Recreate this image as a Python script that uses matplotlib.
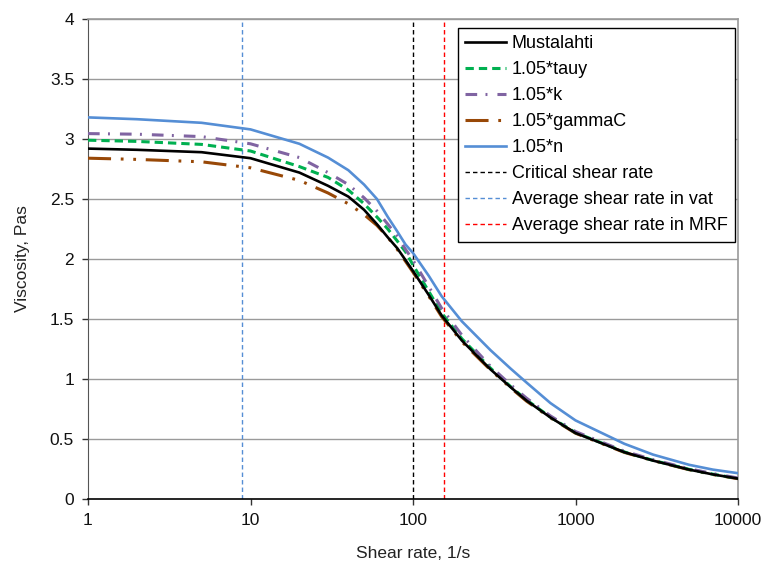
import matplotlib
matplotlib.use("Agg")
import matplotlib.pyplot as plt
from matplotlib.ticker import FixedLocator, FixedFormatter, NullLocator

plt.rcParams['font.family'] = ['Liberation Sans', 'DejaVu Sans']
plt.rcParams['lines.scale_dashes'] = False

# Shear rate (1/s)
shear_rate = [1, 2, 5, 10, 20, 30, 40, 50, 60, 70, 80, 90, 100, 125, 150,
              200, 300, 400, 500, 700, 1000, 2000, 3000, 5000, 7000, 10000]

# Viscosity (Pas) for each parameter variant
mustalahti = [2.92, 2.91, 2.89, 2.84, 2.72, 2.61, 2.52, 2.41, 2.29, 2.18, 2.09, 1.99, 1.90, 1.70, 1.53,
              1.32, 1.08, 0.93, 0.82, 0.68, 0.55, 0.39, 0.32, 0.245, 0.205, 0.17]
tauy_105 = [2.99, 2.98, 2.955, 2.90, 2.77, 2.68, 2.575, 2.46, 2.35, 2.25, 2.15, 2.06, 1.95, 1.73, 1.55,
            1.335, 1.09, 0.935, 0.825, 0.683, 0.553, 0.392, 0.322, 0.247, 0.207, 0.171]
k_105 = [3.045, 3.04, 3.02, 2.96, 2.845, 2.72, 2.62, 2.51, 2.40, 2.29, 2.19, 2.08, 1.99, 1.77, 1.59,
         1.365, 1.105, 0.95, 0.84, 0.693, 0.562, 0.398, 0.328, 0.252, 0.212, 0.175]
gammac_105 = [2.84, 2.83, 2.81, 2.76, 2.655, 2.55, 2.46, 2.37, 2.28, 2.18, 2.08, 1.98, 1.89, 1.69, 1.52,
              1.31, 1.075, 0.925, 0.815, 0.677, 0.548, 0.388, 0.32, 0.244, 0.204, 0.169]
n_105 = [3.18, 3.165, 3.135, 3.08, 2.96, 2.845, 2.74, 2.62, 2.50, 2.35, 2.23, 2.12, 2.05, 1.86, 1.69,
         1.48, 1.24, 1.085, 0.97, 0.80, 0.655, 0.46, 0.37, 0.285, 0.245, 0.215]

# Reference shear rates (1/s)
critical_rate = 100
vat_rate = 8.9
mrf_rate = 156

y_ticks = [0, 0.5, 1, 1.5, 2, 2.5, 3, 3.5, 4]
y_tick_labels = ['0', '0.5', '1', '1.5', '2', '2.5', '3', '3.5', '4']
x_ticks = [1, 10, 100, 1000, 10000]
x_tick_labels = ['1', '10', '100', '1000', '10000']

fig = plt.figure(figsize=(7.66, 5.65), dpi=100)
ax = fig.add_axes([88 / 766, 1 - 499 / 565, (738 - 88) / 766, (499 - 19) / 565])

ax.set_xscale('log')
ax.set_xlim(1, 10000)
ax.set_ylim(0, 4)

grid_color = '#9a9a9a'
for y in y_ticks[1:]:
    ax.axhline(y, color=grid_color, lw=1.0, zorder=1)

ax.plot(shear_rate, mustalahti, color='black', lw=1.9, label='Mustalahti', zorder=5)
ax.plot(shear_rate, tauy_105, color='#00B050', lw=2.2, ls=(0, (6, 3.6)), label='1.05*tauy', zorder=4)
ax.plot(shear_rate, k_105, color='#8064A2', lw=2.2, ls=(0, (8.4, 6, 1.4, 7.2)), label='1.05*k', zorder=4)
ax.plot(shear_rate, gammac_105, color='#984807', lw=2.2,
        ls=(0, (16.6, 7, 2, 7, 2, 7)), label='1.05*gammaC', zorder=3)
ax.plot(shear_rate, n_105, color='#558ED5', lw=1.9, label='1.05*n', zorder=4)

ax.axvline(critical_rate, color='black', lw=1.0, ls=(0, (3.2, 2.2)), label='Critical shear rate', zorder=2)
ax.axvline(vat_rate, color='#558ED5', lw=1.0, ls=(0, (3.2, 2.2)), label='Average shear rate in vat', zorder=2)
ax.axvline(mrf_rate, color='#FF0000', lw=1.0, ls=(0, (3.2, 2.2)), label='Average shear rate in MRF', zorder=2)

ax.xaxis.set_major_locator(FixedLocator(x_ticks))
ax.xaxis.set_major_formatter(FixedFormatter(x_tick_labels))
ax.xaxis.set_minor_locator(NullLocator())
ax.yaxis.set_major_locator(FixedLocator(y_ticks))
ax.yaxis.set_major_formatter(FixedFormatter(y_tick_labels))

ax.tick_params(axis='both', which='major', direction='out', length=4, width=1,
               labelsize=12.5, colors='#333333', labelcolor='#111111', pad=6)

for side in ('top', 'right'):
    ax.spines[side].set_color(grid_color)
    ax.spines[side].set_linewidth(1.2)
ax.spines['left'].set_color('#555555')
ax.spines['bottom'].set_color('black')
ax.spines['bottom'].set_linewidth(1.2)

ax.set_xlabel('Shear rate, 1/s', fontsize=12.5, labelpad=13, color='#222222')
ax.set_ylabel('Viscosity, Pas', fontsize=12.5, labelpad=14, color='#222222')

leg = ax.legend(loc='upper right', bbox_to_anchor=(735 / 766, 1 - 28 / 565),
                bbox_transform=fig.transFigure, borderaxespad=0, fontsize=13,
                frameon=True, fancybox=False, framealpha=1, edgecolor='black',
                handlelength=2.3, handletextpad=0.3, labelspacing=0.5, borderpad=0.4)
leg.get_frame().set_linewidth(1.0)

fig.savefig('out.png', dpi=100)
